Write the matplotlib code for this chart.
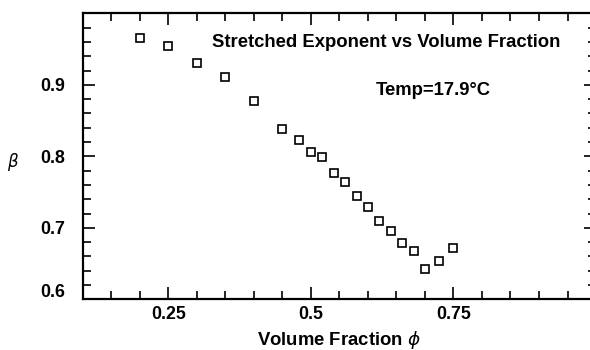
import matplotlib
matplotlib.use("Agg")
import matplotlib.pyplot as plt
import matplotlib.transforms as mtransforms
from matplotlib.ticker import MultipleLocator, FixedLocator

# volume fraction vs stretched exponent
phi = [0.20, 0.25, 0.30, 0.35, 0.40, 0.45, 0.48, 0.50, 0.52, 0.54,
       0.56, 0.58, 0.60, 0.62, 0.64, 0.66, 0.68, 0.70, 0.725, 0.75]
beta = [0.965, 0.955, 0.930, 0.911, 0.877, 0.838, 0.823, 0.806, 0.799, 0.776,
        0.764, 0.745, 0.729, 0.710, 0.695, 0.679, 0.667, 0.643, 0.654, 0.672]

xticks = [0.25, 0.5, 0.75]
xticklabels = ["0.25", "0.5", "0.75"]
yticks = [0.6, 0.7, 0.8, 0.9]
yticklabels = ["0.6", "0.7", "0.8", "0.9"]

plt.rcParams['font.family'] = ['Liberation Sans', 'DejaVu Sans']

fig = plt.figure(figsize=(5.9, 3.5), dpi=100)
ax = fig.add_axes([0.1403, 0.1449, 0.8699, 0.817])

ax.plot(phi, beta, linestyle="none", marker="s", markersize=5.2,
        markerfacecolor="white", markeredgecolor="black", markeredgewidth=1.2)

ax.set_xlim(0.1, 1.0)
ax.set_ylim(0.6, 1.0)

ax.xaxis.set_major_locator(FixedLocator(xticks))
ax.set_xticklabels(xticklabels)
ax.xaxis.set_minor_locator(MultipleLocator(0.05))
ax.yaxis.set_major_locator(FixedLocator(yticks))
ax.set_yticklabels(yticklabels)
ax.yaxis.set_minor_locator(MultipleLocator(0.02))

ax.tick_params(which="both", direction="in", top=True, right=True, width=1.2)
ax.tick_params(which="major", length=8.5)
ax.tick_params(which="minor", length=5.5)
ax.tick_params(axis="x", which="major", pad=5, labelsize=12.8)
ax.tick_params(axis="y", which="major", pad=13, labelsize=12.8)
for lab in ax.get_xticklabels() + ax.get_yticklabels():
    lab.set_fontweight("bold")

# the bottom label sits a little higher in the original
lab0 = ax.get_yticklabels()[0]
lab0.set_transform(lab0.get_transform() +
                   mtransforms.ScaledTranslation(0, 6 / 72, fig.dpi_scale_trans))

for s in ax.spines.values():
    s.set_linewidth(1.6)

fig.text(0.5746, 0.0143, r"Volume Fraction $\phi$", fontsize=13.3, fontweight="bold",
         ha="center", va="baseline")
fig.text(0.0225, 0.538, r"$\beta$", fontsize=12, ha="center", va="center")

fig.text(0.3585, 0.879, "Stretched Exponent vs Volume Fraction",
         fontsize=13.3, fontweight="bold", ha="left", va="center")
fig.text(0.637, 0.741, "Temp=17.9°C",
         fontsize=13.3, fontweight="bold", ha="left", va="center")

fig.savefig("out.png", dpi=100)
